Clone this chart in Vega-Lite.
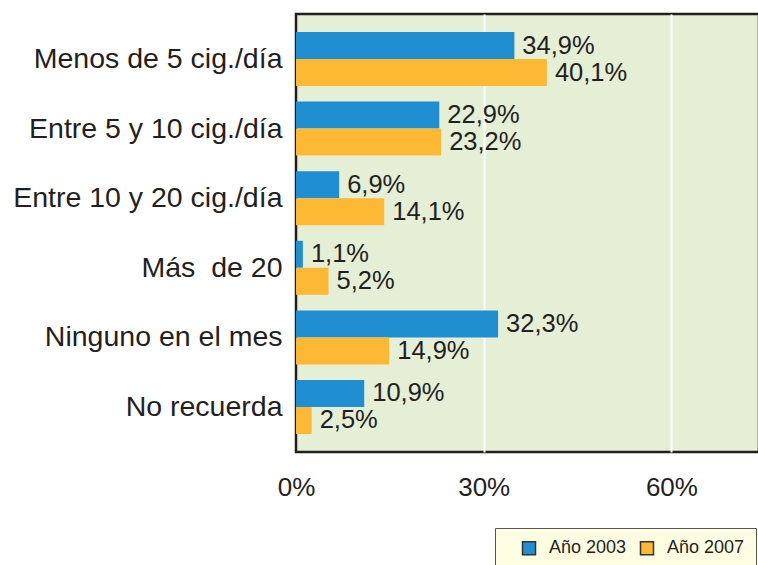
{
  "$schema": "https://vega.github.io/schema/vega-lite/v6.json",
  "width": 463,
  "height": 438,
  "autosize": {"type": "none"},
  "padding": {"left": 296, "top": 14, "right": 0, "bottom": 113},
  "background": "white",
  "config": {
    "font": "Liberation Sans",
    "locale": {"number": {"decimal": ",", "thousands": ".", "grouping": [3], "currency": ["", " €"]}},
    "view": {"stroke": "#231f20", "strokeWidth": 2.5, "fill": "#e4efd6"}
  },
  "data": {
    "values": [
      {"cat": "Menos de 5 cig./día", "year": "Año 2003", "v": 0.349},
      {"cat": "Menos de 5 cig./día", "year": "Año 2007", "v": 0.401},
      {"cat": "Entre 5 y 10 cig./día", "year": "Año 2003", "v": 0.229},
      {"cat": "Entre 5 y 10 cig./día", "year": "Año 2007", "v": 0.232},
      {"cat": "Entre 10 y 20 cig./día", "year": "Año 2003", "v": 0.069},
      {"cat": "Entre 10 y 20 cig./día", "year": "Año 2007", "v": 0.141},
      {"cat": "Más \u00a0de 20", "year": "Año 2003", "v": 0.011},
      {"cat": "Más \u00a0de 20", "year": "Año 2007", "v": 0.052},
      {"cat": "Ninguno en el mes", "year": "Año 2003", "v": 0.323},
      {"cat": "Ninguno en el mes", "year": "Año 2007", "v": 0.149},
      {"cat": "No recuerda", "year": "Año 2003", "v": 0.109},
      {"cat": "No recuerda", "year": "Año 2007", "v": 0.025}
    ]
  },
  "encoding": {
    "y": {
      "field": "cat", "type": "nominal", "sort": null,
      "scale": {"paddingInner": 0.224, "paddingOuter": 0.259},
      "axis": {"title": null, "ticks": false, "domain": false, "labelFontSize": 28.5, "labelColor": "#231f20", "labelPadding": 14, "labelLimit": 400}
    },
    "yOffset": {"field": "year", "type": "nominal", "sort": ["Año 2003", "Año 2007"], "scale": {"paddingInner": 0, "paddingOuter": 0}},
    "x": {
      "field": "v", "type": "quantitative",
      "scale": {"domain": [0, 0.74], "nice": false},
      "axis": {
        "title": null, "values": [0, 0.3, 0.6], "format": ".0%", "ticks": false, "domain": false,
        "labelFlush": false,
        "labelFontSize": 26, "labelColor": "#231f20", "labelPadding": 22,
        "grid": true, "gridWidth": 2,
        "gridColor": {"condition": {"test": "datum.value === 0", "value": "transparent"}, "value": "white"}
      }
    }
  },
  "layer": [
    {
      "mark": {"type": "bar"},
      "encoding": {
        "color": {
          "field": "year", "type": "nominal",
          "scale": {"domain": ["Año 2003", "Año 2007"], "range": ["#1f8fd1", "#fdb933"]},
          "legend": {
            "title": " ", "titleOrient": "left", "titlePadding": 14, "titleFontSize": 17,
            "orient": "none", "legendX": 199, "legendY": 514, "direction": "horizontal",
            "fillColor": "#fdfde1", "strokeColor": "#555", "padding": 11,
            "symbolType": "square", "symbolSize": 169, "symbolStrokeColor": "#333", "symbolStrokeWidth": 1.5,
            "labelFontSize": 18, "labelColor": "#231f20", "labelOffset": 11, "columnPadding": 10,
            "encode": {
              "symbols": {"update": {
                "fill": {"signal": "datum.value === 'Año 2003' ? '#74a6da' : '#fdb933'"},
                "stroke": {"value": "#333333"},
                "strokeWidth": {"value": 1.5},
                "opacity": {"value": 1}
              }}
            }
          }
        }
      }
    },
    {
      "mark": {"type": "text", "align": "left", "baseline": "middle", "dx": 8, "fontSize": 25.5, "color": "#231f20"},
      "encoding": {
        "text": {"field": "v", "type": "quantitative", "format": ".1%"}
      }
    }
  ]
}
